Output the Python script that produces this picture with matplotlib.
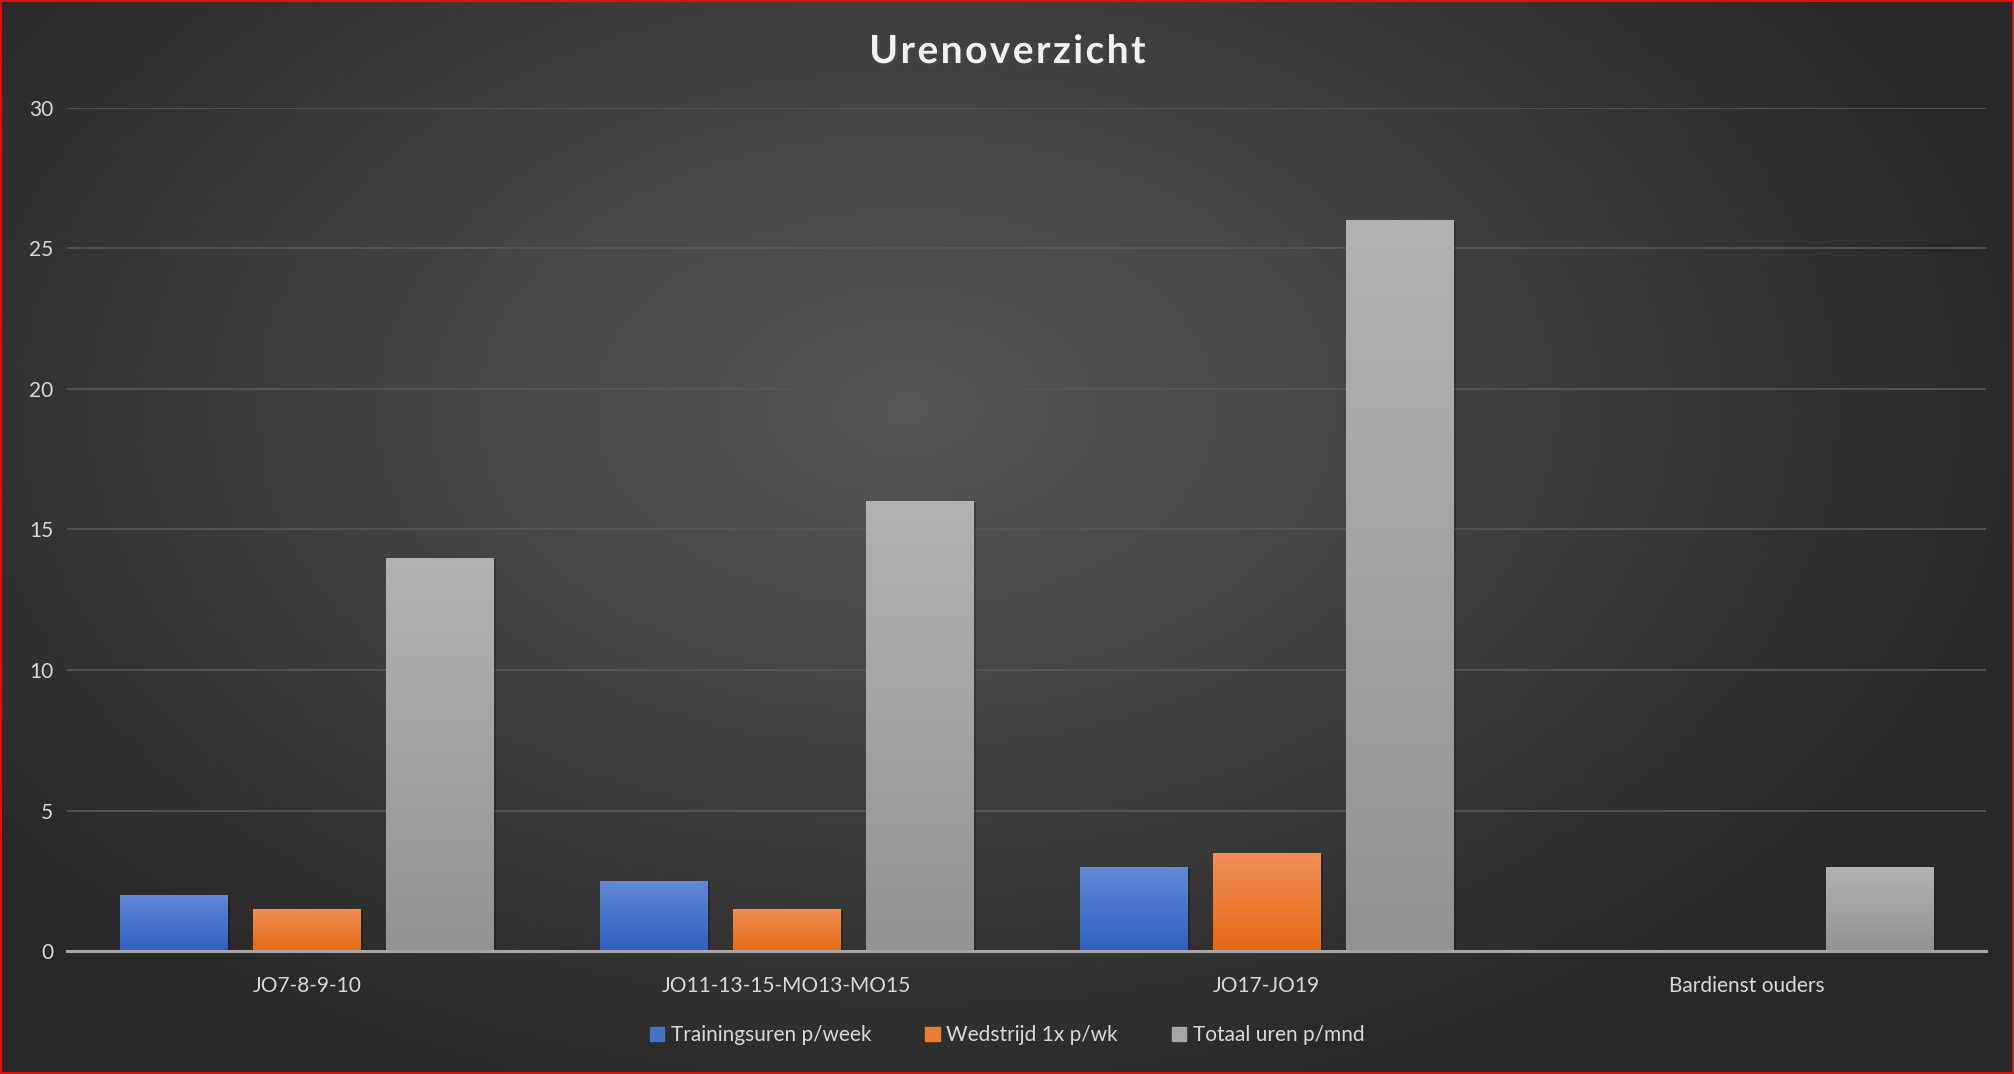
import numpy as np
import matplotlib.pyplot as plt
from matplotlib.patches import Rectangle
import matplotlib.patheffects as pe

# data
categories = ['JO7-8-9-10', 'JO11-13-15-MO13-MO15', 'JO17-JO19', 'Bardienst ouders']
training = [2, 2.5, 3, 0]
wedstrijd = [1.5, 1.5, 3.5, 0]
totaal = [14, 16, 26, 3]
series_names = ['Trainingsuren p/week', 'Wedstrijd 1x p/wk', 'Totaal uren p/mnd']

# kleuren (boven, onder) voor verloop
grad_colors = [('#628ad6', '#2e60be'), ('#f09058', '#e56914'), ('#b2b2b2', '#939393')]
legend_colors = ['#4472c4', '#ed7d31', '#a5a5a5']

plt.rcParams['font.family'] = ['Lato', 'DejaVu Sans']

fig = plt.figure(figsize=(20.14, 10.74), dpi=100)

# achtergrond: radiaal verloop
bg = fig.add_axes([0, 0, 1, 1])
bg.set_axis_off()
yy, xx = np.mgrid[0:1:300j, 0:1:560j]
r = np.sqrt(((xx - 0.45) / 0.75) ** 2 + ((yy - 0.38) / 0.9) ** 2)
r = np.clip(r / 0.75, 0, 1)
light = np.array([0.345, 0.345, 0.345])
dark = np.array([0.16, 0.16, 0.16])
img = light[None, None, :] * (1 - r[..., None]) + dark[None, None, :] * r[..., None]
bg.imshow(img, extent=[0, 1, 0, 1], origin='upper', aspect='auto')
bg.add_patch(Rectangle((0, 0), 1, 1, transform=bg.transAxes, fill=False,
                       edgecolor='#e01010', linewidth=3))
bg.set_xlim(0, 1)
bg.set_ylim(0, 1)

ax = fig.add_axes([0.0333, 0.1145, 0.953, 0.785])
ax.patch.set_alpha(0)

x = np.arange(len(categories))
width = 0.2245
step = 0.277
all_series = [training, wedstrijd, totaal]

for i, (vals, name) in enumerate(zip(all_series, series_names)):
    bars = ax.bar(x + (i - 1) * step, vals, width, color=legend_colors[i], label=name,
                  zorder=3, linewidth=0)
    top_c, bot_c = grad_colors[i]
    grad = np.linspace(0, 1, 256)[:, None]
    c1 = np.array(plt.matplotlib.colors.to_rgb(top_c))
    c2 = np.array(plt.matplotlib.colors.to_rgb(bot_c))
    gimg = c1[None, None, :] * (1 - grad[..., None]) + c2[None, None, :] * grad[..., None]
    for b in bars:
        h = b.get_height()
        if h <= 0:
            continue
        b.set_path_effects([pe.SimplePatchShadow(offset=(1.5, -1), shadow_rgbFace='black', alpha=0.22),
                            pe.Normal()])
        bx = b.get_x()
        im = ax.imshow(gimg, extent=[bx, bx + b.get_width(), 0, h], aspect='auto',
                       origin='upper', zorder=4)
        im.set_clip_path(b)

ax.set_xlim(-0.5, len(categories) - 0.5)
ax.set_ylim(0, 30)
ax.set_yticks([0, 5, 10, 15, 20, 25, 30])
ax.set_xticks(x)
ax.set_xticklabels(categories)
ax.grid(axis='y', color='#575757', linewidth=1.2, zorder=0)
ax.tick_params(axis='both', length=0, colors='#d9d9d9', labelsize=15)
ax.tick_params(axis='y', pad=10)
ax.tick_params(axis='x', pad=18)
for s in ['top', 'right', 'left']:
    ax.spines[s].set_visible(False)
ax.spines['bottom'].set_color('#a6a6a6')
ax.spines['bottom'].set_linewidth(2.2)
ax.spines['bottom'].set_zorder(5)

# titel met wat extra letterafstand
title = '\u200a'.join('Urenoverzicht')
fig.text(0.5, 0.952, title, ha='center', va='center',
         fontsize=28, fontweight='bold', color='#f2f2f2',
         path_effects=[pe.withSimplePatchShadow(offset=(2, -2), alpha=0.6)])

leg = fig.legend(handles=[Rectangle((0, 0), 1, 1, color=c) for c in legend_colors],
                 labels=series_names, loc='center', bbox_to_anchor=(0.5, 0.036), ncol=3,
                 frameon=False, fontsize=15, handlelength=0.7, handleheight=0.7,
                 handletextpad=0.3, columnspacing=2.6)
for t in leg.get_texts():
    t.set_color('#d9d9d9')

fig.savefig('out.png', dpi=100)
